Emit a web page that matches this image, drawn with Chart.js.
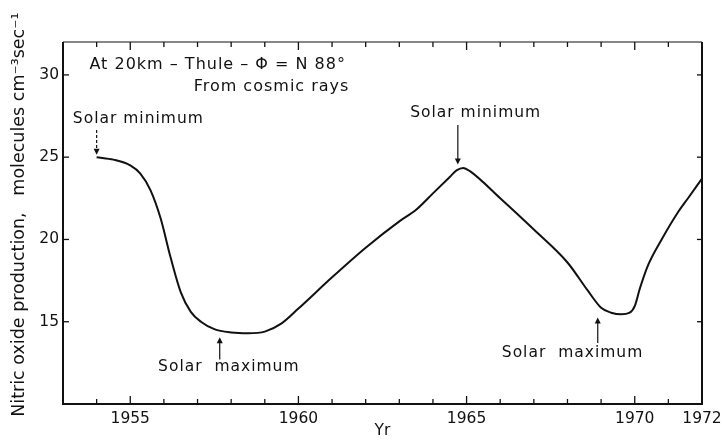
<!DOCTYPE html>
<html>
<head>
<meta charset="utf-8">
<script src="https://cdn.jsdelivr.net/npm/chart.js@4/dist/chart.umd.min.js"></script>
<style>
  html, body { margin: 0; padding: 0; background: #fff; }
  #wrap { width: 723px; height: 440px; }
</style>
</head>
<body>
<div id="wrap"><canvas id="grafico" width="723" height="440"></canvas></div>
<script>
// years and nitric oxide production
const anni = [
  1954.0, 1954.5, 1955.0, 1955.3, 1955.6, 1955.9, 1956.2, 1956.5, 1956.8, 1957.1,
  1957.5, 1958.0, 1958.5, 1959.0, 1959.5, 1960.0, 1961.0, 1962.0, 1963.0, 1963.5,
  1964.0, 1964.5, 1964.7, 1964.9, 1965.1, 1966.0, 1967.0, 1968.0, 1968.6, 1969.0,
  1969.3, 1969.6, 1969.85, 1970.0, 1970.15, 1970.4, 1970.8, 1971.3, 1971.6, 1972.0
];
const produzione = [
  25.0, 24.85, 24.5, 24.0, 23.0, 21.3, 18.9, 16.8, 15.6, 15.0,
  14.55, 14.35, 14.3, 14.4, 14.9, 15.8, 17.7, 19.5, 21.1, 21.8,
  22.8, 23.8, 24.2, 24.35, 24.15, 22.5, 20.6, 18.6, 16.9, 15.85,
  15.55, 15.45, 15.55, 15.95, 17.0, 18.45, 20.0, 21.7, 22.55, 23.7
];
const tickAnni = [1955, 1960, 1965, 1970, 1972];
const tickValori = [15, 20, 25, 30];

// annotations: text, anchor (year, value), arrow (year, from value, to value)
const note = [
  { testo: 'Solar minimum', x: 1955.24, y: 27.3, freccia: [1954.0, 26.65, 25.15], tratteggio: true },
  { testo: 'Solar minimum', x: 1965.27, y: 27.7, freccia: [1964.74, 26.95, 24.55] },
  { testo: 'Solar  maximum', x: 1957.93, y: 12.25, freccia: [1957.66, 12.7, 14.05] },
  { testo: 'Solar  maximum', x: 1968.15, y: 13.1, freccia: [1968.9, 13.7, 15.25] }
];
const titoloInterno = ['At 20km – Thule – Φ = N 88°', 'From cosmic rays'];

const font = '"DejaVu Sans", sans-serif';

const cornice = {
  id: 'cornice',
  afterDraw(chart) {
    const { ctx, chartArea: a, scales: { x, y } } = chart;
    const linea = (x1, y1, x2, y2) => {
      ctx.beginPath(); ctx.moveTo(x1, y1); ctx.lineTo(x2, y2); ctx.stroke();
    };
    ctx.save();
    ctx.strokeStyle = '#111';
    ctx.lineWidth = 2;
    linea(a.left, a.top, a.left, a.bottom + 1);
    linea(a.left, a.bottom, a.right, a.bottom);
    linea(a.right, a.top, a.right, a.bottom + 1);
    ctx.lineWidth = 1.2;
    linea(a.left, a.top, a.right, a.top);

    // yearly ticks, inward, on bottom and top
    ctx.lineWidth = 1.3;
    for (let anno = Math.ceil(x.min + 1); anno < x.max; anno++) {
      const px = x.getPixelForValue(anno);
      const len = anno % 5 === 0 ? 8 : 5;
      linea(px, a.bottom, px, a.bottom - len);
      linea(px, a.top, px, a.top + len);
    }
    // value ticks, inward on both sides
    tickValori.forEach(v => {
      const py = y.getPixelForValue(v);
      linea(a.left, py, a.left + 6, py);
      linea(a.right, py, a.right - 5, py);
    });

    // title inside the plot
    ctx.fillStyle = '#111';
    if ('letterSpacing' in ctx) ctx.letterSpacing = '1px';
    ctx.font = '16px ' + font;
    ctx.textBaseline = 'middle';
    ctx.textAlign = 'center';
    ctx.fillText(titoloInterno[0], x.getPixelForValue(1957.6), y.getPixelForValue(30.6));
    ctx.fillText(titoloInterno[1], x.getPixelForValue(1959.2), y.getPixelForValue(29.26));

    // solar minimum / maximum notes with arrows
    ctx.font = '15.5px ' + font;
    note.forEach(n => {
      ctx.fillText(n.testo, x.getPixelForValue(n.x), y.getPixelForValue(n.y));
      const [fx, da, a2] = n.freccia;
      const px = x.getPixelForValue(fx);
      const p1 = y.getPixelForValue(da);
      const p2 = y.getPixelForValue(a2);
      const dir = p2 > p1 ? 1 : -1;
      ctx.lineWidth = 1.2;
      ctx.setLineDash(n.tratteggio ? [3, 2] : []);
      linea(px, p1, px, p2 - dir * 4);
      ctx.setLineDash([]);
      ctx.beginPath();
      ctx.moveTo(px, p2);
      ctx.lineTo(px - 3, p2 - dir * 6);
      ctx.lineTo(px + 3, p2 - dir * 6);
      ctx.closePath();
      ctx.fill();
    });
    ctx.restore();
  }
};

const sfondo = {
  id: 'sfondo',
  beforeDraw(chart) {
    const { ctx, width, height } = chart;
    ctx.save();
    ctx.fillStyle = '#fff';
    ctx.fillRect(0, 0, width, height);
    ctx.restore();
  }
};

new Chart(document.getElementById('grafico').getContext('2d'), {
  type: 'line',
  data: {
    datasets: [{
      data: anni.map((a, i) => ({ x: a, y: produzione[i] })),
      borderColor: '#111',
      borderWidth: 2,
      pointRadius: 0,
      cubicInterpolationMode: 'monotone',
      fill: false
    }]
  },
  options: {
    responsive: false,
    animation: false,
    layout: { padding: { top: 42, right: 21, left: 0, bottom: 0 } },
    plugins: { legend: { display: false }, tooltip: { enabled: false } },
    scales: {
      x: {
        type: 'linear',
        min: 1953,
        max: 1972,
        afterBuildTicks: s => { s.ticks = tickAnni.map(v => ({ value: v })); },
        afterFit: s => { s.height = 36; s.paddingRight = 0; },
        grid: { display: false, drawTicks: false },
        border: { display: false },
        ticks: {
          autoSkip: false,
          maxRotation: 0,
          padding: 6,
          color: '#111',
          font: { family: font, size: 15.5 },
          callback: v => String(v)
        },
        title: {
          display: true,
          text: 'Yr',
          color: '#111',
          padding: 0,
          font: { family: font, size: 15.5 }
        }
      },
      y: {
        min: 10,
        max: 32,
        afterBuildTicks: s => { s.ticks = tickValori.map(v => ({ value: v })); },
        afterFit: s => { s.width = 63; },
        grid: { display: false, drawTicks: false },
        border: { display: false },
        ticks: {
          padding: 4,
          color: '#111',
          font: { family: font, size: 15.5 }
        },
        title: {
          display: true,
          text: '   Nitric oxide production,   molecules cm⁻³sec⁻¹',
          color: '#111',
          padding: { top: 9, bottom: 0 },
          font: { family: font, size: 17.5 }
        }
      }
    }
  },
  plugins: [sfondo, cornice]
});
</script>
</body>
</html>
